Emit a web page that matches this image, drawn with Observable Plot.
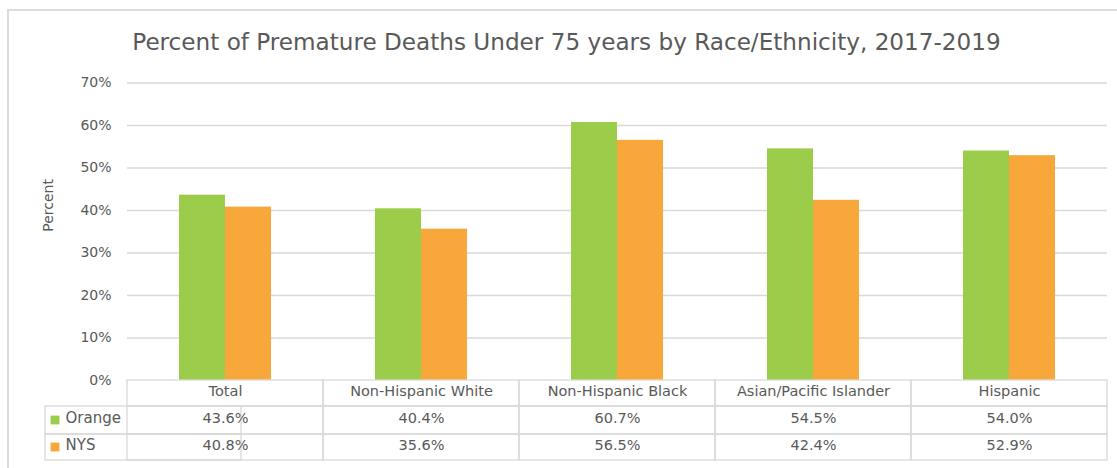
<!DOCTYPE html>
<html>
<head>
<meta charset="utf-8">
<script src="https://cdn.jsdelivr.net/npm/d3@7"></script>
<script src="https://cdn.jsdelivr.net/npm/@observablehq/plot@0.6"></script>
<style>
  html, body { margin: 0; padding: 0; background: #fff; overflow: hidden; }
  #wrap { position: relative; width: 1117px; height: 468px; overflow: hidden; font-family: "DejaVu Sans", sans-serif; }
  #border { position: absolute; left: 7px; top: 9px; width: 1200px; height: 600px; border-left: 2px solid #dcdcdc; border-top: 2px solid #dcdcdc; }
  #title { position: absolute; left: 0; top: 29px; width: 1117px; box-sizing: border-box; padding-left: 16px; text-align: center; color: #595959; font-size: 21px; line-height: 26px; white-space: nowrap; }
  #title span { display: inline-block; }
  #chart { position: absolute; left: 0; top: 62px; }
</style>
</head>
<body>
<div id="wrap">
  <div id="border"></div>
  <div id="title"><span id="titleText">Percent of Premature Deaths Under 75 years by Race/Ethnicity, 2017-2019</span></div>
  <div id="chart"></div>
</div>
<script>
const categories = ["Total", "Non-Hispanic White", "Non-Hispanic Black", "Asian/Pacific Islander", "Hispanic"];
const series = ["Orange", "NYS"];
const orangeValues = [43.6, 40.4, 60.7, 54.5, 54.0];
const nysValues = [40.8, 35.6, 56.5, 42.4, 52.9];
const yTicks = [0, 10, 20, 30, 40, 50, 60, 70];
const seriesColors = ["#9bcd4b", "#f8a83a"];

const valuesBySeries = {Orange: orangeValues, NYS: nysValues};
const data = categories.flatMap((c, i) => series.map(s => ({category: c, series: s, value: valuesBySeries[s][i]})));

const textColor = "#595959";
const lineColor = "#d9d9d9";
const rowDy = [15, 42, 69];          // header, row 1, row 2 text centres below the frame bottom
const rowEdges = [0, 26, 54, 80];     // table row edges below the frame bottom

const marks = [];
// grid lines
marks.push(Plot.ruleY(yTicks.slice(1), {stroke: lineColor, strokeWidth: 1.3}));
// bars
marks.push(Plot.barY(data, {fx: "category", x: "series", y: "value", fill: "series"}));
// table cells (one rectangle per row per column)
for (let r = 0; r < 3; r++) {
  marks.push(Plot.barY(categories, {
    fx: d => d, y1: d => 0, y2: d => 0,
    insetTop: rowEdges[r], insetBottom: -rowEdges[r + 1],
    fill: "none", stroke: lineColor, strokeWidth: 1.3
  }));
}
// legend column cells (rows 1 and 2, left of the first column)
for (let r = 1; r < 3; r++) {
  marks.push(Plot.barY([categories[0]], {
    fx: d => d, y1: d => 0, y2: d => 0,
    insetTop: rowEdges[r], insetBottom: -rowEdges[r + 1],
    dx: -82,
    fill: "none", stroke: lineColor, strokeWidth: 1.3
  }));
}
// header text
marks.push(Plot.text(categories, {fx: d => d, text: d => d, frameAnchor: "bottom", dy: rowDy[0], fill: textColor, fontSize: 14.5}));
// value rows
series.forEach((s, si) => {
  marks.push(Plot.text(data.filter(d => d.series === s), {
    fx: "category", text: d => d.value.toFixed(1) + "%",
    frameAnchor: "bottom", dy: rowDy[si + 1], fill: textColor, fontSize: 14.5
  }));
  // legend label and swatch
  marks.push(Plot.text([s], {fx: () => categories[0], text: d => d, frameAnchor: "bottom-left", textAnchor: "start", dx: -62, dy: rowDy[si + 1], fill: textColor, fontSize: 15}));
  marks.push(Plot.dot([s], {fx: () => categories[0], frameAnchor: "bottom-left", dx: -72.5, dy: rowDy[si + 1] - 2.5, symbol: "square", r: 5, fill: seriesColors[si]}));
});
// y axis title
marks.push(Plot.text(["Percent"], {fx: () => categories[0], text: d => d, frameAnchor: "left", dx: -79, rotate: -90, fill: textColor, fontSize: 14}));

const plot = Plot.plot({
  width: 1117,
  height: 406,
  marginLeft: 126,
  marginRight: 9,
  marginTop: 20.5,
  marginBottom: 88,
  style: {fontFamily: "DejaVu Sans, sans-serif", fontSize: "14px", color: textColor, background: "transparent", overflow: "visible"},
  fx: {domain: categories, padding: 0, axis: null},
  x: {domain: series, paddingInner: 0, paddingOuter: 1.09, axis: null},
  y: {domain: [0, 70], ticks: yTicks, tickFormat: d => d + "%", tickSize: 0, tickPadding: 16, label: null},
  color: {domain: series, range: seriesColors},
  marks
});
document.getElementById("chart").appendChild(plot);

// fit the title to the reference width
const t = document.getElementById("titleText");
const targetW = 869;
const w = t.getBoundingClientRect().width;
if (w > 0) {
  const fs = 21 * targetW / w;
  document.getElementById("title").style.fontSize = fs.toFixed(2) + "px";
}
</script>
</body>
</html>
